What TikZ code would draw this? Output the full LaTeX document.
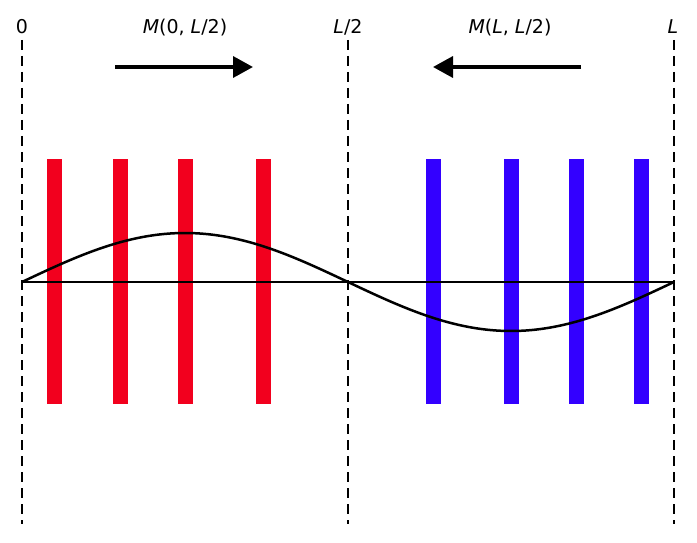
\documentclass[tikz,border=0pt]{standalone}
\usepackage{fontspec}
\setmainfont{DejaVu Sans}
\usetikzlibrary{arrows.meta}
\definecolor{barred}{RGB}{242,0,30}
\definecolor{barblue}{RGB}{51,0,255}
\begin{document}
\begin{tikzpicture}[x=1pt,y=-1pt,
  lbl/.style={inner sep=0pt,anchor=base,font=\fontsize{19}{22}\selectfont},
  guide/.style={line width=2.3pt,dash pattern=on 10pt off 6pt},
  bigarrow/.style={line width=3.5pt,-{Triangle[length=20pt,width=21pt]}},
  redbar/.style={fill=barred},
  bluebar/.style={fill=barblue}]
\useasboundingbox (0,0) rectangle (697,543);
% labels
\node[lbl] (l0) at (22,34) {0};
\node[lbl] (lh) at (348,34) {\textit{L}/2};
\node[lbl] (lL) at (673,34) {\textit{L}};
\node[lbl] (m1) at (185,34) {\textit{M}(0, \textit{L}/2)};
\node[lbl] (m2) at (510,34) {\textit{M}(\textit{L}, \textit{L}/2)};
% dashed guides
\coordinate (d0t) at (22,40); \coordinate (d0b) at (22,524);
\coordinate (d1t) at (348,40); \coordinate (d1b) at (348,524);
\coordinate (d2t) at (674,40); \coordinate (d2b) at (674,524);
\draw[guide] (d0t) -- (d0b);
\draw[guide] (d1t) -- (d1b);
\draw[guide] (d2t) -- (d2b);
% arrows
\coordinate (a1s) at (115,67); \coordinate (a1e) at (253,67);
\coordinate (a2s) at (581,67); \coordinate (a2e) at (433,67);
\draw[bigarrow] (a1s) -- (a1e);
\draw[bigarrow] (a2s) -- (a2e);
% bars
\foreach \xc in {54.5,120,185,263}
  \fill[redbar] (\xc-7.5,159) rectangle (\xc+7.5,404);
\foreach \xc in {433,511,576,641}
  \fill[bluebar] (\xc-7.5,159) rectangle (\xc+7.5,404);
% axis and wave
\coordinate (ax0) at (22,282); \coordinate (ax1) at (674,282);
\draw[line width=2.5pt] (ax0) -- (ax1);
\draw[line width=2.5pt,domain=0:1,samples=120,smooth,variable=\t]
  plot ({22+652*\t},{282-49*sin(360*\t)});
\end{tikzpicture}
\end{document}
